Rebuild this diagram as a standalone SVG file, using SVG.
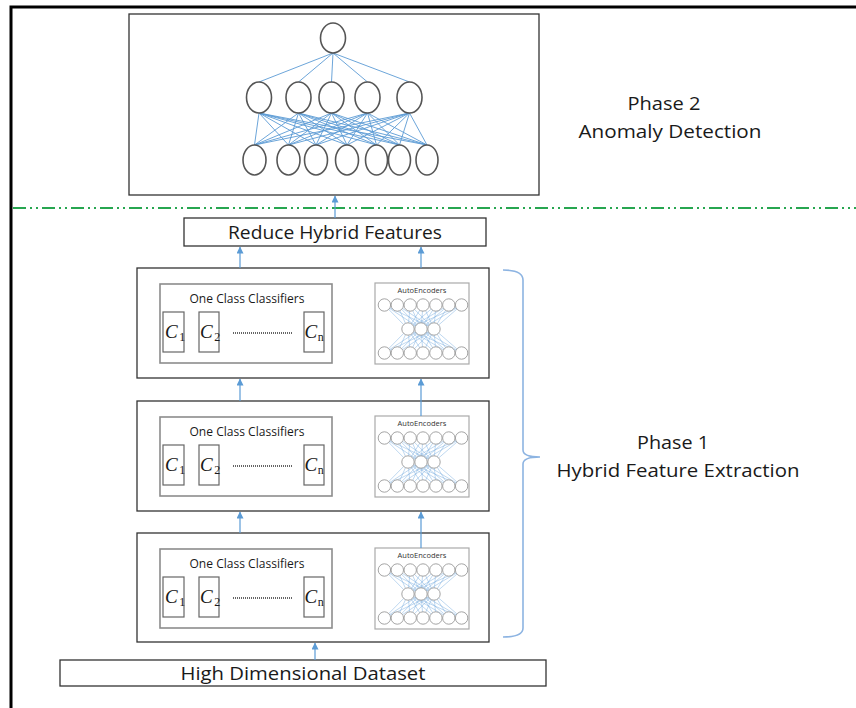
<svg xmlns="http://www.w3.org/2000/svg" xmlns:xlink="http://www.w3.org/1999/xlink" width="856" height="708" viewBox="0 0 856 708">
<style>
.lbl{font-family:"Open Sans","Liberation Sans",Arial,sans-serif;fill:#1a1a1a}
.stage{fill:#fff;stroke:#333;stroke-width:1.3}
.inner{fill:#fff;stroke:#8c8c8c;stroke-width:1.6}
.cbox{fill:#fff;stroke:#666;stroke-width:1.2}
.math{font-family:"Liberation Serif","DejaVu Serif",serif;font-style:italic;font-size:19px;fill:#1a1a1a}
.sub{font-style:normal;font-size:12px}
.neur{fill:#fff;stroke:#555;stroke-width:1.6}
.nl{stroke:#5b9bd5;stroke-width:0.9;fill:none}
.aec{fill:#fff;stroke:#9a9a9a;stroke-width:0.9}
.ael{stroke:#7fb0e0;stroke-width:0.5;fill:none}
.conn{stroke:#5b9bd5;stroke-width:1.2;fill:none}
</style>
<defs>
<marker id="ah" viewBox="0 0 8 8" refX="7.5" refY="4" markerWidth="7" markerHeight="7" markerUnits="userSpaceOnUse" orient="auto">
<path d="M0,0 L8,4 L0,8 Z" fill="#5b9bd5"/>
</marker>
<g id="ae">
<rect class="inner" x="0" y="0" width="94" height="81" style="stroke-width:1.2;stroke:#aaa"/>
<text x="47" y="10" text-anchor="middle" style="font-family:'Open Sans','Liberation Sans',Arial,sans-serif;font-size:7.5px;fill:#333">AutoEncoders</text>
<g class="ael">
<path d="M9.4,22 L33,46 M9.4,22 L46,46 M9.4,22 L59,46 M22.3,22 L33,46 M22.3,22 L46,46 M22.3,22 L59,46 M35.2,22 L33,46 M35.2,22 L46,46 M35.2,22 L59,46 M48,22 L33,46 M48,22 L46,46 M48,22 L59,46 M60.9,22 L33,46 M60.9,22 L46,46 M60.9,22 L59,46 M73.8,22 L33,46 M73.8,22 L46,46 M73.8,22 L59,46 M86.6,22 L33,46 M86.6,22 L46,46 M86.6,22 L59,46"/>
<path d="M9.4,70 L33,46 M9.4,70 L46,46 M9.4,70 L59,46 M22.3,70 L33,46 M22.3,70 L46,46 M22.3,70 L59,46 M35.2,70 L33,46 M35.2,70 L46,46 M35.2,70 L59,46 M48,70 L33,46 M48,70 L46,46 M48,70 L59,46 M60.9,70 L33,46 M60.9,70 L46,46 M60.9,70 L59,46 M73.8,70 L33,46 M73.8,70 L46,46 M73.8,70 L59,46 M86.6,70 L33,46 M86.6,70 L46,46 M86.6,70 L59,46"/>
</g>
<g class="aec">
<circle cx="9.4" cy="22" r="6.2"/><circle cx="22.3" cy="22" r="6.2"/><circle cx="35.2" cy="22" r="6.2"/><circle cx="48" cy="22" r="6.2"/><circle cx="60.9" cy="22" r="6.2"/><circle cx="73.8" cy="22" r="6.2"/><circle cx="86.6" cy="22" r="6.2"/>
<circle cx="33" cy="46" r="6.2"/><circle cx="46" cy="46" r="6.2"/><circle cx="59" cy="46" r="6.2"/>
<circle cx="9.4" cy="70" r="6.2"/><circle cx="22.3" cy="70" r="6.2"/><circle cx="35.2" cy="70" r="6.2"/><circle cx="48" cy="70" r="6.2"/><circle cx="60.9" cy="70" r="6.2"/><circle cx="73.8" cy="70" r="6.2"/><circle cx="86.6" cy="70" r="6.2"/>
</g>
</g>
</defs>
<rect width="856" height="708" fill="#fff"/>
<path d="M11,708 V7 H856" fill="none" stroke="#000" stroke-width="3"/>

<g id="anomaly-net">
<rect x="129" y="14" width="410" height="181" fill="#fff" stroke="#333" stroke-width="1.3"/>
<g class="nl">
<path d="M333,53 L259,82 M333,53 L298.5,82 M333,53 L331.5,82 M333,53 L367.5,82 M333,53 L409.5,82"/>
<path d="M259,113 L254.5,145 M259,113 L288.5,145 M259,113 L316,145 M259,113 L347,145 M259,113 L376.5,145 M259,113 L399.5,145 M259,113 L427,145
M298.5,113 L254.5,145 M298.5,113 L288.5,145 M298.5,113 L316,145 M298.5,113 L347,145 M298.5,113 L376.5,145 M298.5,113 L399.5,145 M298.5,113 L427,145
M331.5,113 L254.5,145 M331.5,113 L288.5,145 M331.5,113 L316,145 M331.5,113 L347,145 M331.5,113 L376.5,145 M331.5,113 L399.5,145 M331.5,113 L427,145
M367.5,113 L254.5,145 M367.5,113 L288.5,145 M367.5,113 L316,145 M367.5,113 L347,145 M367.5,113 L376.5,145 M367.5,113 L399.5,145 M367.5,113 L427,145
M409.5,113 L254.5,145 M409.5,113 L288.5,145 M409.5,113 L316,145 M409.5,113 L347,145 M409.5,113 L376.5,145 M409.5,113 L399.5,145 M409.5,113 L427,145"/>
</g>
<g class="neur">
<ellipse cx="333" cy="38" rx="12.5" ry="15"/>
<ellipse cx="259" cy="97.5" rx="12.5" ry="15.5"/>
<ellipse cx="298.5" cy="97.5" rx="12.5" ry="15.5"/>
<ellipse cx="331.5" cy="97.5" rx="12.5" ry="15.5"/>
<ellipse cx="367.5" cy="97.5" rx="12.5" ry="15.5"/>
<ellipse cx="409.5" cy="97.5" rx="12.5" ry="15.5"/>
<ellipse cx="254.5" cy="160" rx="11.5" ry="15"/>
<ellipse cx="288.5" cy="160" rx="11.5" ry="15"/>
<ellipse cx="316" cy="160" rx="11.5" ry="15"/>
<ellipse cx="347" cy="160" rx="11.5" ry="15"/>
<ellipse cx="376.5" cy="160" rx="11" ry="15"/>
<ellipse cx="399.5" cy="160" rx="11" ry="15"/>
<ellipse cx="427" cy="160" rx="11" ry="15"/>
</g>
</g>

<g id="phase2-label">
<text class="lbl" x="664" y="110" text-anchor="middle" font-size="18" textLength="73" lengthAdjust="spacingAndGlyphs">Phase 2</text>
<text class="lbl" x="670" y="138" text-anchor="middle" font-size="18" textLength="183" lengthAdjust="spacingAndGlyphs">Anomaly Detection</text>
</g>

<g id="phase-divider">
<line x1="13" y1="208" x2="856" y2="208" stroke="#27a650" stroke-width="2.2" stroke-dasharray="13 4 2 4 2 4"/>
</g>

<g id="reduce">
<rect x="184" y="218" width="302" height="28" fill="#fff" stroke="#333" stroke-width="1.3"/>
<text class="lbl" x="335" y="239" text-anchor="middle" font-size="18" textLength="214" lengthAdjust="spacingAndGlyphs">Reduce Hybrid Features</text>
</g>

<g id="stage1">
<rect class="stage" x="137" y="268" width="352" height="110"/>
<rect class="inner" x="160" y="284" width="172" height="79"/>
<text class="lbl" x="247" y="303" text-anchor="middle" font-size="13" textLength="115" lengthAdjust="spacingAndGlyphs">One Class Classifiers</text>
<rect class="cbox" x="163" y="312" width="21" height="40"/>
<rect class="cbox" x="199" y="312" width="20" height="40"/>
<rect class="cbox" x="304" y="312" width="20" height="40"/>
<text class="math" x="165" y="338">C<tspan class="sub" dx="1.5" dy="3">1</tspan></text>
<text class="math" x="200" y="338">C<tspan class="sub" dx="1.5" dy="3">2</tspan></text>
<text class="math" x="304.5" y="338">C<tspan class="sub" dx="0.5" dy="3" font-style="italic">n</tspan></text>
<line x1="233" y1="333" x2="293" y2="333" stroke="#333" stroke-width="1.3" stroke-dasharray="1 1"/>
<use xlink:href="#ae" x="375" y="283"/>
</g>

<g id="stage2">
<rect class="stage" x="137" y="401" width="352" height="110"/>
<rect class="inner" x="160" y="417" width="172" height="79"/>
<text class="lbl" x="247" y="436" text-anchor="middle" font-size="13" textLength="115" lengthAdjust="spacingAndGlyphs">One Class Classifiers</text>
<rect class="cbox" x="163" y="445" width="21" height="40"/>
<rect class="cbox" x="199" y="445" width="20" height="40"/>
<rect class="cbox" x="304" y="445" width="20" height="40"/>
<text class="math" x="165" y="471">C<tspan class="sub" dx="1.5" dy="3">1</tspan></text>
<text class="math" x="200" y="471">C<tspan class="sub" dx="1.5" dy="3">2</tspan></text>
<text class="math" x="304.5" y="471">C<tspan class="sub" dx="0.5" dy="3" font-style="italic">n</tspan></text>
<line x1="233" y1="466" x2="293" y2="466" stroke="#333" stroke-width="1.3" stroke-dasharray="1 1"/>
<use xlink:href="#ae" x="375" y="416"/>
</g>

<g id="stage3">
<rect class="stage" x="137" y="533" width="352" height="109"/>
<rect class="inner" x="160" y="549" width="172" height="79"/>
<text class="lbl" x="247" y="568" text-anchor="middle" font-size="13" textLength="115" lengthAdjust="spacingAndGlyphs">One Class Classifiers</text>
<rect class="cbox" x="163" y="577" width="21" height="40"/>
<rect class="cbox" x="199" y="577" width="20" height="40"/>
<rect class="cbox" x="304" y="577" width="20" height="40"/>
<text class="math" x="165" y="603">C<tspan class="sub" dx="1.5" dy="3">1</tspan></text>
<text class="math" x="200" y="603">C<tspan class="sub" dx="1.5" dy="3">2</tspan></text>
<text class="math" x="304.5" y="603">C<tspan class="sub" dx="0.5" dy="3" font-style="italic">n</tspan></text>
<line x1="233" y1="598" x2="293" y2="598" stroke="#333" stroke-width="1.3" stroke-dasharray="1 1"/>
<use xlink:href="#ae" x="375" y="548"/>
</g>

<g id="dataset">
<rect x="60" y="660" width="486" height="26" fill="#fff" stroke="#333" stroke-width="1.3"/>
<text class="lbl" x="303" y="680" text-anchor="middle" font-size="19" textLength="245" lengthAdjust="spacingAndGlyphs">High Dimensional Dataset</text>
</g>

<g id="phase1-label">
<path d="M503,270 Q523,270 523,280 V450 Q523,457 540,457 Q523,457 523,464 V628 Q523,637 503,637" fill="none" stroke="#8db4e2" stroke-width="1.6"/>
<text class="lbl" x="673" y="449" text-anchor="middle" font-size="18" textLength="72" lengthAdjust="spacingAndGlyphs">Phase 1</text>
<text class="lbl" x="678" y="477" text-anchor="middle" font-size="18" textLength="243" lengthAdjust="spacingAndGlyphs">Hybrid Feature Extraction</text>
</g>

<g id="connectors" class="conn" marker-end="url(#ah)">
<line x1="335" y1="218" x2="335" y2="196"/>
<line x1="240" y1="268" x2="240" y2="247"/>
<line x1="421" y1="268" x2="421" y2="247"/>
<line x1="240" y1="401" x2="240" y2="379"/>
<line x1="421" y1="416" x2="421" y2="379"/>
<line x1="240" y1="533" x2="240" y2="512"/>
<line x1="421" y1="548" x2="421" y2="512"/>
<line x1="315" y1="660" x2="315" y2="643"/>
</g>
</svg>
